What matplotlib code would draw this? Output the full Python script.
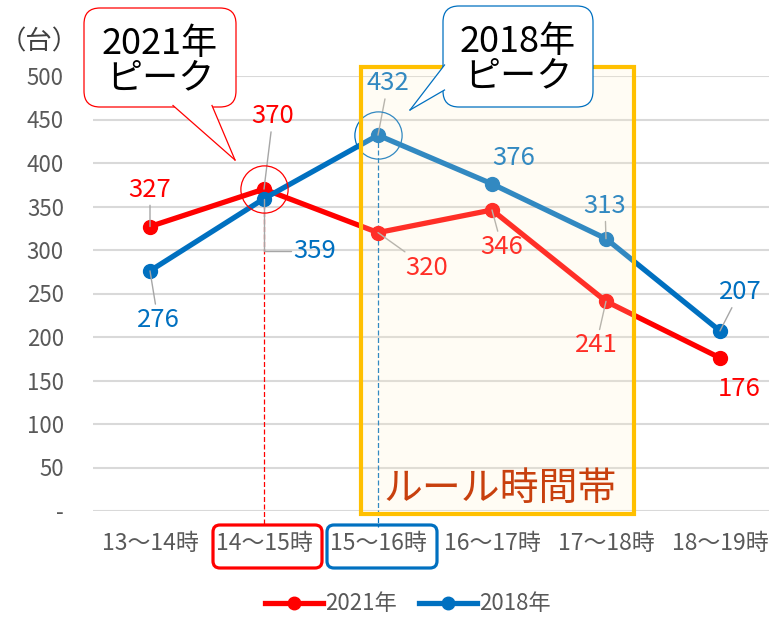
import matplotlib
matplotlib.use("Agg")
import matplotlib.pyplot as plt
from matplotlib.patches import FancyBboxPatch, Polygon, Rectangle
from matplotlib.lines import Line2D
from matplotlib.transforms import Affine2D

plt.rcParams['font.family'] = ['Noto Sans CJK JP', 'DejaVu Sans']

# data
hours = ["13～14時", "14～15時", "15～16時", "16～17時", "17～18時", "18～19時"]
y2021 = [327, 370, 320, 346, 241, 176]
y2018 = [276, 359, 432, 376, 313, 207]
yticks = [0, 50, 100, 150, 200, 250, 300, 350, 400, 450, 500]

RED = '#FF0000'
BLUE = '#0070C0'
GRAY = '#595959'

W, H = 769, 617
fig = plt.figure(figsize=(W / 100, H / 100), dpi=100)
ax = fig.add_axes([93 / W, 106 / H, (W - 93) / W, 435 / H])
# pixel coords measured from top-left of the picture
pix = Affine2D().scale(1, -1).translate(0, H).scale(1 / 100) + fig.dpi_scale_trans

x = list(range(len(hours)))
ax.plot(x, y2021, color=RED, lw=3.8, marker='o', ms=10, zorder=3, label='2021年')
ax.plot(x, y2018, color=BLUE, lw=3.8, marker='o', ms=10, zorder=3, label='2018年')

ax.set_xlim(-0.5, 5.43)
ax.set_ylim(0, 500)
ax.set_yticks(yticks)
ax.set_yticklabels(['-' if v == 0 else str(v) for v in yticks], fontsize=16, color=GRAY)
ax.set_xticks(x)
ax.set_xticklabels(hours, fontsize=16.5, color=GRAY)
ax.tick_params(length=0)
ax.tick_params(axis='y', pad=21)
ax.tick_params(axis='x', pad=15)
ax.grid(axis='y', color='#D9D9D9', lw=1.5)
ax.set_axisbelow(True)
for s in ax.spines.values():
    s.set_visible(False)

# data labels (offsets in pixels); leader style per label (None = no leader)
off2021 = [(0, 37), (9, 73), (49, -35), (10, -37), (-10, -44), (19, -31)]
off2018 = [(8, -49), (51, -52), (10, 52), (22, 26), (-1, 33), (20, 39)]
lead2021 = ['arc3', 'arc3', 'arc3', 'arc3', 'arc3', None]
lead2018 = ['arc3', 'angle,angleA=0,angleB=90,rad=0', 'arc3', None, 'arc3', 'arc3']
for vals, offs, leads, col in [(y2021, off2021, lead2021, RED), (y2018, off2018, lead2018, BLUE)]:
    for i, (v, o, ld) in enumerate(zip(vals, offs, leads)):
        ap = None
        if ld:
            ap = dict(arrowstyle='-', color='#A6A6A6', lw=1, shrinkA=0, shrinkB=0,
                      connectionstyle=ld)
        ax.annotate(str(v), (i, v), xytext=o, textcoords='offset pixels',
                    ha='center', va='center', fontsize=18.5, color=col, zorder=4,
                    arrowprops=ap)

# peak markers
p21 = y2021.index(max(y2021))
p18 = y2018.index(max(y2018))
ax.plot(p21, y2021[p21], marker='o', ms=34, mfc='none', mec=RED, mew=0.9, zorder=4)
ax.plot(p18, y2018[p18], marker='o', ms=34, mfc='none', mec=BLUE, mew=0.9, zorder=4)
ax.plot([p21, p21], [y2021[p21], -16], color=RED, lw=0.9, ls=(0, (4, 2)), clip_on=False, zorder=2)
ax.plot([p18, p18], [y2018[p18], -18], color=BLUE, lw=0.9, ls=(0, (4, 2)), clip_on=False, zorder=2)

# rule time band
ax.add_patch(Rectangle((1.85, -3.5), 2.396, 513.5, facecolor='#FFF0C8', alpha=0.2,
                       edgecolor='none', clip_on=False, zorder=5))
ax.add_patch(Rectangle((1.85, -3.5), 2.396, 513.5, facecolor='none',
                       edgecolor='#FFC000', lw=3, clip_on=False, zorder=6))
fig.text(500, 489, 'ルール時間帯', transform=pix, ha='center', va='center',
         fontsize=28, color='#C8400E', zorder=7)

# boxes around peak tick labels
for (x0, x1), col in [((213, 322), RED), ((327, 437), BLUE)]:
    fig.patches.append(FancyBboxPatch((x0, 525), x1 - x0, 43, boxstyle='round,pad=0,rounding_size=7',
                                      transform=pix, facecolor='none', edgecolor=col, lw=2.3))


def callout(box, base1, base2, tip, col, lines):
    x0, y0, x1, y1 = box
    fig.patches.append(FancyBboxPatch((x0, y0), x1 - x0, y1 - y0,
                                      boxstyle='round,pad=0,rounding_size=16', transform=pix,
                                      facecolor='white', edgecolor=col, lw=0.9, zorder=10))
    fig.patches.append(Polygon([base1, base2, tip], closed=True, transform=pix,
                               facecolor='white', edgecolor='none', zorder=11))
    for b in (base1, base2):
        fig.lines.append(Line2D([b[0], tip[0]], [b[1], tip[1]], transform=pix,
                                color=col, lw=0.9, zorder=12))
    cx = (x0 + x1) / 2
    for ty, t in lines:
        fig.text(cx, ty, t, transform=pix, ha='center', va='center',
                 fontsize=26, color='black', zorder=13)


callout((84, 8, 236, 107), (173, 105.5), (212, 105.5), (235, 160), RED,
        [(44, '2021年'), (78, 'ピーク')])
callout((443, 6, 593, 107), (444.5, 65), (444.5, 90), (410, 110), BLUE,
        [(42, '2018年'), (76, 'ピーク')])

fig.text(39, 42, '（台）', transform=pix, ha='center', va='center', fontsize=19, color='#404040')

fig.legend(loc='center', bbox_to_anchor=(408 / W, 1 - 604 / H), ncol=2, frameon=False,
           fontsize=16, labelcolor=GRAY, handlelength=2.6, handletextpad=0.1,
           columnspacing=1.0, markerscale=0.9)

fig.savefig('out.png', dpi=100)
